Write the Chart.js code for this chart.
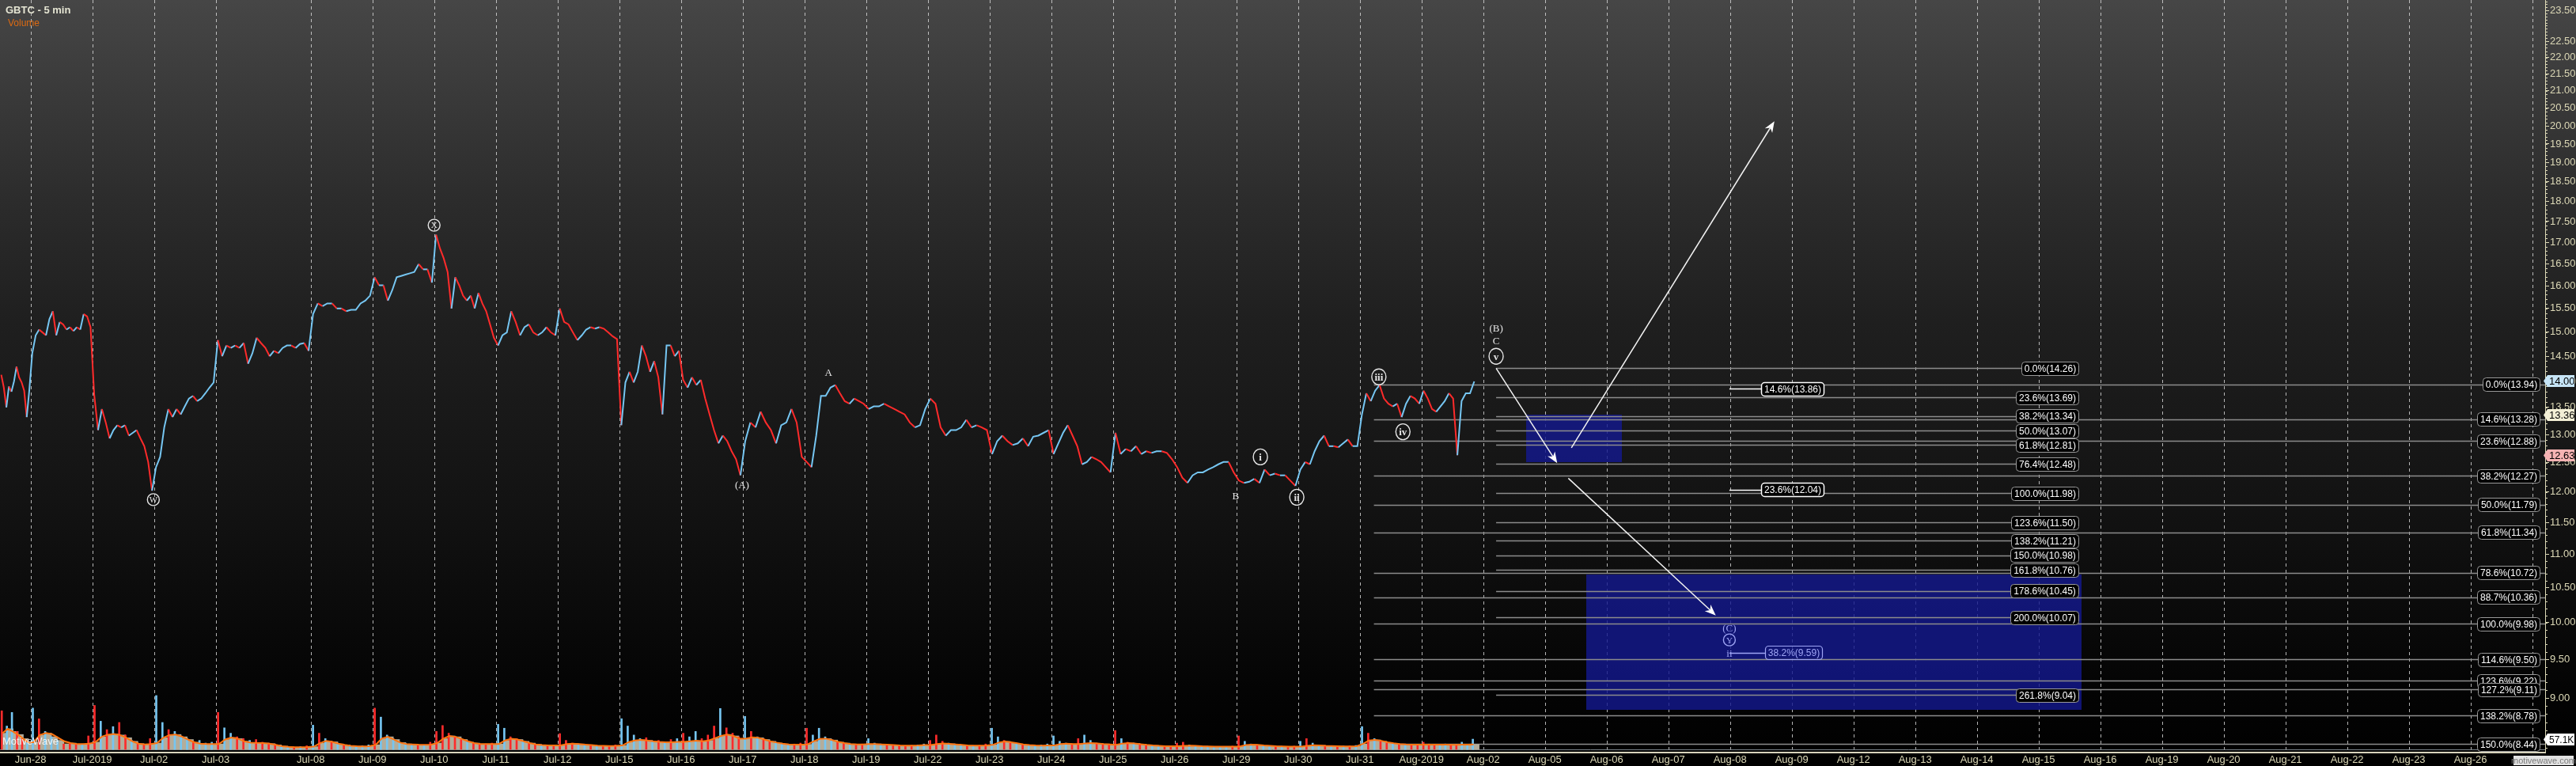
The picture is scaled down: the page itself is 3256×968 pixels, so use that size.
<!DOCTYPE html>
<html>
<head>
<meta charset="utf-8">
<script src="https://cdn.jsdelivr.net/npm/chart.js@4.4.0/dist/chart.umd.min.js"></script>
<style>
html, body { margin: 0; padding: 0; background: #000; }
</style>
</head>
<body>
<canvas id="chart" width="3256" height="968"></canvas>
<script>
// GBTC 5 min - prices, roughly a dozen samples per session
const pxJun27 = [14.13, 13.88, 13.50, 13.90, 13.80, 14.00, 14.29, 14.08, 13.98, 13.82, 13.32, 13.82]
const pxJun28 = [14.56, 14.93, 15.05, 14.99, 14.93, 15.27, 15.44, 14.93, 15.21, 15.16, 15.05, 15.10, 15.02, 15.10, 15.05, 15.38, 15.33, 15.10]
const pxJul01 = [13.75, 13.08, 13.47, 13.22, 12.93, 13.08, 13.17, 13.13, 13.17, 12.98, 13.03, 13.08, 12.93, 12.79, 12.51, 12.02]
const pxJul02 = [12.42, 12.60, 13.13, 13.47, 13.32, 13.47, 13.37, 13.52, 13.67, 13.72, 13.62, 13.67, 13.77, 13.88, 13.98]
const pxJul03 = [14.83, 14.50, 14.72, 14.67, 14.72, 14.67, 14.77, 14.35, 14.56, 14.88, 14.77, 14.67, 14.50, 14.61, 14.56, 14.67, 14.72, 14.72, 14.67, 14.75, 14.77, 14.61]
const pxJul08 = [15.38, 15.61, 15.55, 15.61, 15.61, 15.50, 15.50, 15.44, 15.47, 15.47, 15.61, 15.67, 15.78]
const pxJul09 = [16.19, 16.01, 16.01, 15.67, 15.90, 16.19, 16.22, 16.25, 16.28, 16.31, 16.49, 16.37, 16.37, 16.07]
const pxJul10 = [17.18, 16.86, 16.62, 16.31, 15.50, 16.19, 16.01, 15.78, 15.67, 15.78, 15.50, 15.84, 15.61, 15.44, 15.16, 14.88]
const pxJul11 = [14.72, 14.93, 14.99, 15.44, 15.21, 14.93, 15.10, 15.16, 14.99, 14.93, 14.99, 15.10, 14.99, 14.93]
const pxJul12 = [15.50, 15.21, 15.16, 14.99, 14.83, 14.93, 15.05, 15.10, 15.07, 15.10, 15.07, 14.99, 14.91, 14.85]
const pxJul15 = [13.17, 13.98, 14.19, 13.98, 14.19, 14.72, 14.50, 14.19, 14.40, 14.08, 13.37, 14.72, 14.72, 14.50, 14.61]
const pxJul16 = [14.03, 13.88, 14.08, 13.93, 14.03, 13.67, 13.37, 13.08, 12.84, 12.98, 12.88, 12.70, 12.56, 12.28]
const pxJul17 = [12.88, 13.22, 13.13, 13.42, 13.22, 13.08, 12.84, 13.17, 13.22, 13.47, 13.22, 12.60]
const pxJul18 = [12.51, 12.42, 12.98, 13.72, 13.72, 13.88, 13.93, 13.77, 13.62, 13.57, 13.67, 13.62, 13.57]
const pxJul19 = [13.47, 13.52, 13.52, 13.57, 13.52, 13.47, 13.42, 13.37, 13.22, 13.13, 13.17, 13.47]
const pxJul22 = [13.67, 13.57, 13.13, 12.98, 13.08, 13.08, 13.13, 13.27, 13.13, 13.17, 13.13, 13.08]
const pxJul23 = [12.65, 12.88, 12.98, 12.88, 12.81, 12.84, 12.93, 12.79, 12.96, 12.98, 13.03, 13.08]
const pxJul24 = [12.65, 12.84, 13.03, 13.17, 12.98, 12.79, 12.47, 12.51, 12.60, 12.56, 12.51, 12.42, 12.33]
const pxJul25 = [13.03, 12.65, 12.74, 12.70, 12.79, 12.65, 12.70, 12.67, 12.70, 12.70, 12.67, 12.56]
const pxJul26 = [12.42, 12.24, 12.15, 12.28, 12.33, 12.33, 12.38, 12.42, 12.47, 12.51, 12.51, 12.33]
const pxJul29 = [12.19, 12.15, 12.17, 12.22, 12.15, 12.38, 12.28, 12.31, 12.28, 12.28, 12.19, 12.10]
const pxJul30 = [12.38, 12.51, 12.47, 12.70, 12.88, 12.98, 12.79, 12.79, 12.77, 12.84, 12.91, 12.79, 12.79]
const pxJul31 = [13.37, 13.77, 13.62, 13.82, 13.93, 13.67, 13.57, 13.52, 13.57, 13.32, 13.57, 13.72, 13.67, 13.57]
const pxAug01 = [13.82, 13.67, 13.47, 13.42, 13.52, 13.62, 13.77, 13.67, 12.63, 13.62, 13.77, 13.77, 14.00]

// volume (K) and its moving average, per session
const volJun27 = [215, 130, 206, 100, 60, 40]
const maJun27 = [90, 115, 100, 83, 60, 40]
const volJun28 = [230, 170, 100, 70, 50, 30, 35, 28, 30, 75]
const maJun28 = [40, 80, 91, 85, 65, 45, 35, 30, 30, 32]
const volJul01 = [245, 157, 110, 127, 150, 80, 50, 35, 28, 60]
const maJul01 = [40, 70, 82, 86, 80, 65, 45, 32, 28, 30]
const volJul02 = [300, 150, 110, 100, 70, 60, 45, 50, 35, 40]
const maJul02 = [35, 65, 80, 83, 72, 55, 40, 32, 30, 30]
const volJul03 = [206, 120, 90, 70, 60, 50, 55, 40, 35, 30, 20, 15, 12, 15, 20]
const maJul03 = [30, 55, 66, 60, 45, 38, 36, 35, 32, 25, 18, 14, 12, 12, 13]
const volJul08 = [135, 90, 60, 45, 30, 25, 20, 18, 20, 25]
const maJul08 = [15, 35, 47, 42, 32, 25, 20, 18, 17, 18]
const volJul09 = [230, 180, 80, 60, 40, 35, 28, 25, 22, 40]
const maJul09 = [25, 60, 70, 55, 38, 30, 28, 26, 25, 27]
const volJul10 = [100, 133, 90, 70, 55, 40, 35, 30, 30, 35]
const maJul10 = [35, 60, 75, 70, 58, 45, 35, 30, 30, 30]
const volJul11 = [140, 118, 70, 60, 45, 35, 30, 25, 22, 25]
const maJul11 = [30, 50, 60, 55, 45, 35, 28, 24, 22, 22]
const volJul12 = [88, 50, 35, 30, 25, 22, 20, 18, 20, 25]
const maJul12 = [22, 30, 32, 30, 27, 24, 21, 20, 19, 20]
const volJul15 = [171, 130, 80, 60, 65, 45, 50, 40, 55, 60]
const maJul15 = [22, 40, 50, 53, 50, 45, 42, 40, 40, 42]
const volJul16 = [90, 70, 100, 60, 80, 130, 228, 120, 90, 70]
const maJul16 = [42, 45, 48, 45, 50, 62, 75, 83, 75, 60]
const volJul17 = [184, 100, 70, 60, 45, 35, 30, 25, 30, 35]
const maJul17 = [60, 67, 65, 55, 45, 38, 32, 28, 26, 26]
const volJul18 = [118, 80, 118, 70, 55, 40, 35, 30, 28, 30]
const maJul18 = [28, 45, 58, 60, 52, 42, 35, 30, 28, 28]
const volJul19 = [60, 35, 30, 25, 22, 20, 20, 22, 25, 30]
const maJul19 = [30, 30, 28, 26, 24, 22, 21, 21, 22, 24]
const volJul22 = [50, 80, 45, 35, 30, 25, 22, 20, 22, 30]
const maJul22 = [24, 30, 33, 31, 28, 25, 22, 21, 21, 22]
const volJul23 = [118, 70, 50, 35, 30, 25, 22, 20, 25, 30]
const maJul23 = [25, 38, 44, 40, 34, 28, 24, 22, 21, 22]
const volJul24 = [75, 45, 35, 30, 60, 80, 50, 35, 30, 30]
const maJul24 = [22, 30, 32, 30, 30, 33, 35, 33, 30, 28]
const volJul25 = [105, 60, 40, 35, 30, 25, 22, 20, 18, 18]
const maJul25 = [25, 32, 35, 33, 29, 25, 22, 20, 18, 18]
const volJul26 = [35, 40, 25, 20, 18, 16, 15, 15, 16, 18]
const maJul26 = [18, 20, 21, 20, 18, 17, 16, 15, 15, 16]
const volJul29 = [75, 45, 30, 22, 20, 18, 18, 16, 16, 18]
const maJul29 = [16, 24, 27, 25, 22, 20, 18, 17, 16, 16]
const volJul30 = [45, 60, 35, 25, 22, 20, 18, 18, 20, 22]
const maJul30 = [16, 20, 23, 22, 20, 19, 18, 17, 17, 18]
const volJul31 = [127, 90, 60, 45, 35, 30, 28, 25, 25, 28]
const maJul31 = [30, 50, 53, 48, 40, 34, 30, 28, 27, 27]
const volAug01 = [40, 30, 28, 25, 30, 25, 22, 40, 28, 57.1]
const maAug01 = [27, 27, 26, 26, 26, 25, 25, 26, 27, 28]

// session length in trading days (Jun-27 only partly visible, Jul-03 half day + Jul-05)
const sessionSpan = [0.495, 1, 1, 1, 1.54, 1, 1, 1, 1, 1, 1, 1, 1, 1, 1, 1, 1, 1, 1, 1, 1, 1, 1, 0.89]
const sessionPx = [pxJun27, pxJun28, pxJul01, pxJul02, pxJul03, pxJul08, pxJul09, pxJul10, pxJul11, pxJul12, pxJul15, pxJul16,
    pxJul17, pxJul18, pxJul19, pxJul22, pxJul23, pxJul24, pxJul25, pxJul26, pxJul29, pxJul30, pxJul31, pxAug01]
const sessionVol = [volJun27, volJun28, volJul01, volJul02, volJul03, volJul08, volJul09, volJul10, volJul11, volJul12, volJul15, volJul16,
    volJul17, volJul18, volJul19, volJul22, volJul23, volJul24, volJul25, volJul26, volJul29, volJul30, volJul31, volAug01]
const sessionMa = [maJun27, maJun28, maJul01, maJul02, maJul03, maJul08, maJul09, maJul10, maJul11, maJul12, maJul15, maJul16,
    maJul17, maJul18, maJul19, maJul22, maJul23, maJul24, maJul25, maJul26, maJul29, maJul30, maJul31, maAug01]

// date axis
const dayTicks = ['Jun-28', 'Jul-2019', 'Jul-02', 'Jul-03', 'Jul-08', 'Jul-09', 'Jul-10', 'Jul-11', 'Jul-12', 'Jul-15', 'Jul-16',
    'Jul-17', 'Jul-18', 'Jul-19', 'Jul-22', 'Jul-23', 'Jul-24', 'Jul-25', 'Jul-26', 'Jul-29', 'Jul-30', 'Jul-31', 'Aug-2019',
    'Aug-02', 'Aug-05', 'Aug-06', 'Aug-07', 'Aug-08', 'Aug-09', 'Aug-12', 'Aug-13', 'Aug-14', 'Aug-15', 'Aug-16', 'Aug-19',
    'Aug-20', 'Aug-21', 'Aug-22', 'Aug-23', 'Aug-26', 'Aug-27']
const priceTicks = [9.00, 9.50, 10.00, 10.50, 11.00, 11.50, 12.00, 12.50, 13.00, 13.50, 14.00, 14.50, 15.00, 15.50, 16.00, 16.50,
    17.00, 17.50, 18.00, 18.50, 19.00, 19.50, 20.00, 20.50, 21.00, 21.50, 22.00, 22.50, 23.50]

// fibonacci sets
const fibALevels = ['0.0%', '14.6%', '23.6%', '38.2%', '50.0%', '61.8%', '78.6%', '88.7%', '100.0%', '114.6%', '123.6%', '127.2%', '138.2%', '150.0%']
const fibAPrices = [13.94, 13.28, 12.88, 12.27, 11.79, 11.34, 10.72, 10.36, 9.98, 9.50, 9.22, 9.11, 8.78, 8.44]
const fibBLevels = ['0.0%', '23.6%', '38.2%', '50.0%', '61.8%', '76.4%', '100.0%', '123.6%', '138.2%', '150.0%', '161.8%', '178.6%', '200.0%', '261.8%']
const fibBPrices = [14.26, 13.69, 13.34, 13.07, 12.81, 12.48, 11.98, 11.50, 11.21, 10.98, 10.76, 10.45, 10.07, 9.04]
const fibCLevels = ['14.6%', '23.6%']
const fibCPrices = [13.86, 12.04]
const fibDLevels = ['38.2%']
const fibDPrices = [9.59]

// target zones [day from, day to], [price top, price bottom]
const zoneDays = [[24.24, 25.79], [25.21, 33.24]]
const zonePrices = [[13.36, 12.51], [10.69, 8.85]]

// projection arrows [day, price]
const arrowFrom = [[23.75, 14.26], [24.92, 12.23], [24.97, 12.76]]
const arrowTo = [[24.74, 12.49], [27.31, 10.10], [28.26, 20.13]]

// wave counts
const waveText = ['W', 'X', '(A)', 'A', 'B', 'i', 'ii', 'iii', 'iv', '(B)', 'C', 'v', '(C)', 'Y', 'ii']
const waveDay = [1.99, 6.54, 11.53, 12.93, 19.53, 19.93, 20.52, 21.85, 22.24, 23.75, 23.75, 23.75, 27.53, 27.53, 27.53]
const wavePrice = [11.87, 17.41, 12.12, 14.17, 11.94, 12.60, 11.91, 14.09, 13.05, 15.09, 14.82, 14.50, 9.92, 9.76, 9.58]
const waveCircled = [true, true, false, false, false, true, true, true, true, false, false, true, false, true, false]
const waveProjected = [false, false, false, false, false, false, false, false, false, false, false, false, true, true, true]

// tags on the price axis
const axisTagValues = [14.00, 13.36, 12.63]
const axisTagColors = ['#c6e4f6', '#f3efd6', '#f6b3b3']
const lastVolume = 57.1

const FONT = '"Liberation Sans", Arial, sans-serif'
const SERIF = '"Liberation Serif", "Times New Roman", serif'
const RED = '#ff2b2b'
const BLUE = '#76c6f2'
const BEIGE = '#dcd8b6'
const DAY_MIN = -0.495
const DAY_MAX = 40.75

Chart.defaults.font.family = FONT

// tick positions: one per trading day, Jul-03 covers the half day plus Jul-05
const tickDays = []
let t = 0
dayTicks.forEach(d => {
    tickDays.push(t)
    t += d === 'Jul-03' ? 1.54 : 1
})

function buildSeries() {
    const price = [], vol = [], volBase = [], ma = [], volColor = []
    let start = DAY_MIN
    sessionPx.forEach((p, s) => {
        const span = sessionSpan[s]
        p.forEach((v, i) => price.push({ x: start + (i + 0.5) / p.length * span, y: v }))
        const vs = sessionVol[s], ms = sessionMa[s]
        vs.forEach((v, i) => {
            const x = start + (i + 0.5) / vs.length * span
            vol.push({ x, y: v })
            volBase.push({ x, y: Math.min(v, ms[i]) })
            ma.push({ x, y: ms[i] })
            const k = Math.min(p.length - 1, Math.max(1, Math.round((i + 0.5) / vs.length * p.length)))
            volColor.push(p[k] >= p[k - 1] ? BLUE : RED)
        })
        start += span
    })
    return { price, vol, volBase, ma, volColor }
}

const series = buildSeries()

function boxLabel(ctx, text, x, y, align, border, color, fill, lw) {
    ctx.font = '12px ' + FONT
    const w = Math.round(ctx.measureText(text).width) + 7
    const h = 17
    const left = Math.round(align === 'right' ? x - w : x)
    const top = Math.round(y - h / 2)
    ctx.beginPath()
    ctx.roundRect(left + 0.5, top + 0.5, w, h, 4)
    if (fill) {
        ctx.fillStyle = fill
        ctx.fill()
    }
    ctx.lineWidth = lw || 1
    ctx.strokeStyle = border
    ctx.stroke()
    ctx.fillStyle = color
    ctx.textAlign = 'center'
    ctx.textBaseline = 'middle'
    ctx.fillText(text, left + w / 2 + 0.5, top + h / 2 + 1)
}

function hline(ctx, x1, x2, y, color, w) {
    const yy = Math.round(y) + 0.5
    ctx.beginPath()
    ctx.moveTo(x1, yy)
    ctx.lineTo(x2, yy)
    ctx.strokeStyle = color
    ctx.lineWidth = w
    ctx.stroke()
}

function arrow(ctx, x1, y1, x2, y2) {
    const a = Math.atan2(y2 - y1, x2 - x1)
    const len = 14, half = 5.5
    ctx.beginPath()
    ctx.moveTo(x1, y1)
    ctx.lineTo(x2 - Math.cos(a) * len * 0.7, y2 - Math.sin(a) * len * 0.7)
    ctx.strokeStyle = '#f2f2f2'
    ctx.lineWidth = 1.5
    ctx.stroke()
    ctx.beginPath()
    ctx.moveTo(x2, y2)
    ctx.lineTo(x2 - Math.cos(a) * len - Math.sin(a) * half, y2 - Math.sin(a) * len + Math.cos(a) * half)
    ctx.lineTo(x2 - Math.cos(a) * len * 0.7, y2 - Math.sin(a) * len * 0.7)
    ctx.lineTo(x2 - Math.cos(a) * len + Math.sin(a) * half, y2 - Math.sin(a) * len - Math.cos(a) * half)
    ctx.closePath()
    ctx.fillStyle = '#ffffff'
    ctx.fill()
}

const overlay = {
    id: 'overlay',
    beforeDraw(chart) {
        const { ctx, width, height } = chart
        const g = ctx.createLinearGradient(0, 0, 0, height)
        g.addColorStop(0, '#464646')
        g.addColorStop(0.26, '#2c2c2c')
        g.addColorStop(0.42, '#1f1f1f')
        g.addColorStop(0.67, '#121212')
        g.addColorStop(0.9, '#040404')
        g.addColorStop(1, '#000000')
        ctx.save()
        ctx.fillStyle = g
        ctx.fillRect(0, 0, width, height)
        ctx.restore()
    },
    beforeDatasetsDraw(chart) {
        const { ctx, chartArea: area, scales: { x, y, yVol } } = chart
        ctx.save()

        // dashed day separators
        ctx.setLineDash([4, 4])
        ctx.strokeStyle = 'rgba(210,210,210,0.85)'
        ctx.lineWidth = 1
        tickDays.forEach(d => {
            const xx = Math.round(x.getPixelForValue(d)) + 0.5
            ctx.beginPath()
            ctx.moveTo(xx, area.top)
            ctx.lineTo(xx, area.bottom)
            ctx.stroke()
        })
        ctx.setLineDash([])

        // target zones
        ctx.fillStyle = 'rgba(20,24,142,0.82)'
        zoneDays.forEach((d, i) => {
            const x1 = x.getPixelForValue(d[0]), x2 = x.getPixelForValue(d[1])
            const y1 = y.getPixelForValue(zonePrices[i][0]), y2 = y.getPixelForValue(zonePrices[i][1])
            ctx.fillRect(Math.round(x1), Math.round(y1), Math.round(x2 - x1), Math.round(y2 - y1))
        })

        // fib lines
        const aStart = x.getPixelForValue(21.77)
        fibAPrices.forEach(p => hline(ctx, aStart, area.right, y.getPixelForValue(p), '#8c8c8c', 1.5))
        const bStart = x.getPixelForValue(23.75), bEnd = x.getPixelForValue(33.18)
        fibBPrices.forEach(p => hline(ctx, bStart, bEnd, y.getPixelForValue(p), '#8c8c8c', 1.5))
        const cStart = x.getPixelForValue(27.53), cEnd = x.getPixelForValue(28.05)
        fibCPrices.forEach(p => hline(ctx, cStart, cEnd, y.getPixelForValue(p), '#ffffff', 1.5))
        fibDPrices.forEach(p => hline(ctx, cStart, cEnd + 5, y.getPixelForValue(p), '#9ea4f4', 1.5))

        // volume baseline
        hline(ctx, area.left, area.right, yVol.getPixelForValue(0), '#7b858c', 1)
        ctx.restore()
    },
    afterDatasetsDraw(chart) {
        const { ctx, scales: { x, y } } = chart
        ctx.save()

        arrowFrom.forEach((f, i) => {
            arrow(ctx, x.getPixelForValue(f[0]), y.getPixelForValue(f[1]),
                x.getPixelForValue(arrowTo[i][0]), y.getPixelForValue(arrowTo[i][1]))
        })

        // wave labels
        waveText.forEach((txt, i) => {
            const cx = x.getPixelForValue(waveDay[i]), cy = y.getPixelForValue(wavePrice[i])
            const col = waveProjected[i] ? '#9ea4f4' : '#e6e6e6'
            ctx.fillStyle = col
            ctx.strokeStyle = col
            ctx.textAlign = 'center'
            ctx.textBaseline = 'middle'
            if (waveCircled[i]) {
                const small = txt.length === 1 && txt !== 'i' && txt !== 'v'
                const r = small ? 7.5 : 10
                ctx.lineWidth = 1.4
                ctx.beginPath()
                ctx.ellipse(cx, cy, small ? r : r - 1, r, 0, 0, Math.PI * 2)
                ctx.stroke()
                ctx.font = (small ? '11px ' : 'bold 13px ') + SERIF
            } else {
                ctx.font = '13px ' + SERIF
            }
            ctx.fillText(txt, cx, cy + 1)
        })

        // fib labels
        const aRight = x.getPixelForValue(40.66)
        fibAPrices.forEach((p, i) => boxLabel(ctx, fibALevels[i] + '(' + p.toFixed(2) + ')', aRight, y.getPixelForValue(p),
            'right', '#9a9a9a', '#ffffff', '#000000'))
        const bRight = x.getPixelForValue(33.18)
        fibBPrices.forEach((p, i) => boxLabel(ctx, fibBLevels[i] + '(' + p.toFixed(2) + ')', bRight, y.getPixelForValue(p),
            'right', '#9a9a9a', '#ffffff', '#000000'))
        const cLeft = x.getPixelForValue(28.05)
        fibCPrices.forEach((p, i) => boxLabel(ctx, fibCLevels[i] + '(' + p.toFixed(2) + ')', cLeft, y.getPixelForValue(p),
            'left', '#ffffff', '#ffffff', '#000000', 1.5))
        fibDPrices.forEach((p, i) => boxLabel(ctx, fibDLevels[i] + '(' + p.toFixed(2) + ')', cLeft + 5, y.getPixelForValue(p),
            'left', '#9ea4f4', '#9ea4f4', null, 1.2))
        ctx.restore()
    },
    afterDraw(chart) {
        const { ctx, chartArea: area, scales: { y, yVol } } = chart
        ctx.save()

        // minor ticks on the price axis
        ctx.strokeStyle = BEIGE
        ctx.lineWidth = 1
        for (let v = 8.4; v < 23.85; v += 0.1) {
            const yy = Math.round(y.getPixelForValue(v)) + 0.5
            ctx.beginPath()
            ctx.moveTo(area.right, yy)
            ctx.lineTo(area.right + 3, yy)
            ctx.stroke()
        }

        // value tags on the axis
        const tag = (text, yy, bg, size) => {
            ctx.font = size + 'px ' + FONT
            const left = area.right + 3, right = chart.width - 2, h = 15
            const top = Math.round(yy - h / 2)
            ctx.beginPath()
            ctx.moveTo(left - 5, top + h / 2)
            ctx.lineTo(left, top)
            ctx.lineTo(right, top)
            ctx.lineTo(right, top + h)
            ctx.lineTo(left, top + h)
            ctx.closePath()
            ctx.fillStyle = bg
            ctx.fill()
            ctx.fillStyle = '#000000'
            ctx.textAlign = 'left'
            ctx.textBaseline = 'middle'
            ctx.fillText(text, left + 2, top + h / 2 + 1)
        }
        axisTagValues.forEach((v, i) => tag(v.toFixed(2), y.getPixelForValue(v), axisTagColors[i], 13))
        tag(lastVolume.toFixed(1) + 'K', yVol.getPixelForValue(lastVolume), '#ffffff', 12)

        // titles and watermarks
        ctx.textAlign = 'left'
        ctx.textBaseline = 'middle'
        ctx.font = 'bold 13px ' + FONT
        ctx.fillStyle = '#e4e4d2'
        ctx.fillText('GBTC - 5 min', 7, 13)
        ctx.font = '12px ' + FONT
        ctx.fillStyle = '#dc6a12'
        ctx.fillText('Volume', 10, 30)
        ctx.font = '13px ' + FONT
        ctx.fillStyle = 'rgba(255,255,255,0.85)'
        ctx.fillText('MotiveWave', 3, 937)

        ctx.fillStyle = '#e2e2e2'
        ctx.fillRect(3177, 955, 76, 12)
        ctx.font = '11px ' + FONT
        ctx.fillStyle = '#7a7a7a'
        ctx.textAlign = 'center'
        ctx.fillText('motivewave.com', 3215, 962)
        ctx.restore()
    }
}

new Chart(document.getElementById('chart'), {
    type: 'line',
    data: {
        datasets: [
            {
                type: 'line', data: series.ma, yAxisID: 'yVol', borderWidth: 0, pointRadius: 0,
                backgroundColor: '#4a2305', fill: 'origin', order: 5
            },
            {
                type: 'bar', data: series.volBase, yAxisID: 'yVol', backgroundColor: '#b3ad9b',
                barThickness: 7, order: 4
            },
            {
                type: 'bar', data: series.vol, yAxisID: 'yVol', backgroundColor: series.volColor,
                barThickness: 2, order: 3
            },
            {
                type: 'line', data: series.ma, yAxisID: 'yVol', borderColor: '#ff7410', borderWidth: 2,
                pointRadius: 0, fill: false, order: 2
            },
            {
                type: 'line', data: series.price, yAxisID: 'y', borderWidth: 2, pointRadius: 0, fill: false, order: 1,
                segment: {
                    borderColor: c => c.p1.parsed.y < c.p0.parsed.y ? RED : BLUE
                }
            }
        ]
    },
    options: {
        responsive: false,
        animation: false,
        devicePixelRatio: 1,
        layout: { padding: 0, autoPadding: false },
        plugins: {
            legend: { display: false },
            tooltip: { enabled: false }
        },
        scales: {
            x: {
                type: 'linear',
                offset: false,
                min: DAY_MIN,
                max: DAY_MAX,
                afterBuildTicks: s => { s.ticks = tickDays.map(v => ({ value: v })) },
                afterFit: s => {
                    s.height = 17
                    s.paddingLeft = 0
                    s.paddingRight = 0
                },
                grid: { display: false, drawTicks: false, offset: false },
                border: { color: '#d8d4bc', width: 2 },
                ticks: {
                    color: BEIGE,
                    font: { size: 13 },
                    padding: 2,
                    autoSkip: false,
                    maxRotation: 0,
                    callback: (v, i) => i < dayTicks.length - 1 ? dayTicks[i] : ''
                }
            },
            y: {
                type: 'logarithmic',
                position: 'right',
                min: 8.34,
                max: 23.84,
                afterBuildTicks: s => { s.ticks = priceTicks.map(v => ({ value: v })) },
                afterFit: s => {
                    s.width = 39
                    s.paddingTop = 0
                    s.paddingBottom = 0
                },
                grid: { display: true, drawOnChartArea: false, drawTicks: true, tickLength: 5, color: BEIGE },
                border: { color: BEIGE, width: 1 },
                ticks: {
                    color: BEIGE,
                    font: { size: 13 },
                    padding: 1,
                    autoSkip: false,
                    callback: v => Number(v).toFixed(2)
                }
            },
            yVol: {
                type: 'linear',
                display: false,
                min: -17.6,
                max: 4175
            }
        }
    },
    plugins: [overlay]
})
</script>
</body>
</html>
